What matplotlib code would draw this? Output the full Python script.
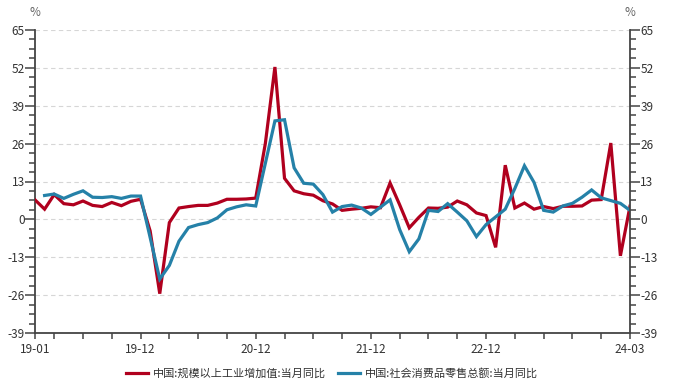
import numpy as np
import matplotlib
matplotlib.use("Agg")
import matplotlib.pyplot as plt
from matplotlib.ticker import MultipleLocator

plt.rcParams['font.family'] = ['Noto Sans CJK SC', 'DejaVu Sans']

months = [f"{y:02d}-{m:02d}" for y in range(19, 25) for m in range(1, 13)][:63]

industrial = [
    6.7, 3.5, 8.5, 5.4, 5.0, 6.3, 4.8, 4.4, 5.8, 4.7, 6.2, 6.9,
    -4.0, -25.5, -1.1, 3.9, 4.4, 4.8, 4.8, 5.6, 6.9, 6.9, 7.0, 7.3,
    26.0, 52.3, 14.1, 9.8, 8.8, 8.3, 6.4, 5.3, 3.1, 3.5, 3.8, 4.3,
    4.0, 12.5, 5.0, -2.9, 0.7, 3.9, 3.8, 4.2, 6.3, 5.0, 2.2, 1.3,
    -9.6, 18.6, 3.9, 5.6, 3.5, 4.4, 3.7, 4.5, 4.5, 4.6, 6.6, 6.8,
    26.2, -12.5, 4.5,
]
nan = float('nan')
retail = [
    nan, 8.2, 8.7, 7.2, 8.6, 9.8, 7.6, 7.5, 7.8, 7.2, 8.0, 8.0,
    nan, -20.5, -15.8, -7.5, -2.8, -1.8, -1.1, 0.5, 3.3, 4.3, 5.0, 4.6,
    nan, 33.8, 34.2, 17.7, 12.4, 12.1, 8.5, 2.5, 4.4, 4.9, 3.9, 1.7,
    nan, 6.7, -3.5, -11.1, -6.7, 3.1, 2.7, 5.4, 2.5, -0.5, -5.9, -1.8,
    nan, 3.5, 10.6, 18.4, 12.7, 3.1, 2.5, 4.6, 5.5, 7.6, 10.1, 7.4,
    nan, 5.5, 3.1,
]
labels = ["中国:规模以上工业增加值:当月同比", "中国:社会消费品零售总额:当月同比"]
shown_ticks = ["19-01", "19-12", "20-12", "21-12", "22-12", "24-03"]

red = '#B0001E'
blue = '#2581A8'
axis_c = '#444444'
text_c = '#333333'

fig = plt.figure(figsize=(6.96, 3.91), dpi=100)
ax = fig.add_axes([35/696, 1-333/391, (630-35)/696, (333-30)/391])

x = np.arange(len(months))
ind = np.array(industrial)
ret = np.array(retail)
mask = ~np.isnan(ret)
l1, = ax.plot(x, ind, color=red, lw=2.3, solid_joinstyle='miter', zorder=3)
l2, = ax.plot(x[mask], ret[mask], color=blue, lw=2.3, solid_joinstyle='miter', zorder=3)

ax.set_xlim(0, len(months)-1)
ax.set_ylim(-39, 65)
ax.yaxis.set_major_locator(MultipleLocator(13))
ax.yaxis.set_minor_locator(MultipleLocator(3.25))
ax.grid(axis='y', which='major', linestyle=(0, (4, 3)), color='#d6d6d6', lw=0.8)

tick_pos = [i for i, m in enumerate(months) if i == 0 or int(m[3:]) % 3 == 0]
ax.set_xticks(tick_pos)
ax.set_xticklabels([months[i] if months[i] in shown_ticks else '' for i in tick_pos])

for s in ['top', 'right']:
    ax.spines[s].set_visible(False)
for s in ['left', 'bottom']:
    ax.spines[s].set_color(axis_c)
    ax.spines[s].set_linewidth(1.3)

ax.tick_params(axis='y', which='major', length=7, width=1.1, color=axis_c, pad=0.5, labelsize=8.5, labelcolor=text_c)
ax.tick_params(axis='y', which='minor', length=4.5, width=1.1, color=axis_c)
ax.tick_params(axis='x', which='major', length=4, width=1.1, color=axis_c, pad=3, labelsize=8.5, labelcolor=text_c)
ax.set_yticks(np.arange(-39, 66, 13))
ax.set_yticklabels([str(v) for v in range(-39, 66, 13)])

ax2 = ax.twinx()
ax2.set_ylim(ax.get_ylim())
ax2.yaxis.set_major_locator(MultipleLocator(13))
ax2.yaxis.set_minor_locator(MultipleLocator(3.25))
for s in ['top', 'left', 'bottom']:
    ax2.spines[s].set_visible(False)
ax2.spines['right'].set_color(axis_c)
ax2.spines['right'].set_linewidth(1.3)
ax2.tick_params(axis='y', which='major', length=7, width=1.1, color=axis_c, pad=0.5, labelsize=8.5, labelcolor=text_c)
ax2.tick_params(axis='y', which='minor', length=4.5, width=1.1, color=axis_c)
ax2.set_yticks(np.arange(-39, 66, 13))
ax2.set_yticklabels([str(v) for v in range(-39, 66, 13)])

fig.text(35/696, 1-12/391, '%', ha='center', va='center', fontsize=8.5, color='#666666')
fig.text(630/696, 1-12/391, '%', ha='center', va='center', fontsize=8.5, color='#666666')

fig.legend([l1, l2], labels, loc='center', bbox_to_anchor=(332/696, 1-373/391), ncol=2,
           frameon=False, fontsize=8, handlelength=2.0, handletextpad=0.5, columnspacing=1.0,
           labelcolor=text_c)

fig.savefig('out.png', dpi=100)
